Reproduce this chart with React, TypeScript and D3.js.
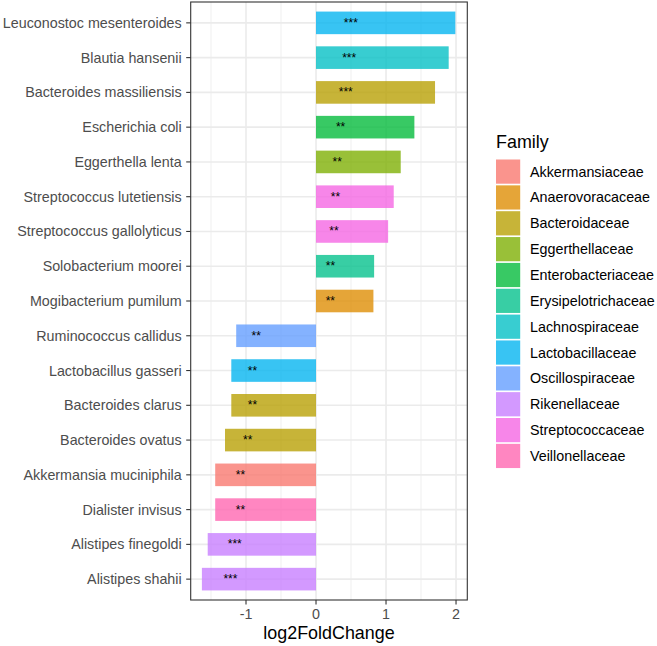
import React from 'react';
import * as d3 from 'd3';

const species = [
  'Leuconostoc mesenteroides',
  'Blautia hansenii',
  'Bacteroides massiliensis',
  'Escherichia coli',
  'Eggerthella lenta',
  'Streptococcus lutetiensis',
  'Streptococcus gallolyticus',
  'Solobacterium moorei',
  'Mogibacterium pumilum',
  'Ruminococcus callidus',
  'Lactobacillus gasseri',
  'Bacteroides clarus',
  'Bacteroides ovatus',
  'Akkermansia muciniphila',
  'Dialister invisus',
  'Alistipes finegoldi',
  'Alistipes shahii',
];

const log2FC = [1.99, 1.895, 1.7, 1.405, 1.21, 1.11, 1.03, 0.83, 0.82, -1.14, -1.21, -1.21, -1.3, -1.44, -1.44, -1.547, -1.63];

const speciesFamily = [
  'Lactobacillaceae',
  'Lachnospiraceae',
  'Bacteroidaceae',
  'Enterobacteriaceae',
  'Eggerthellaceae',
  'Streptococcaceae',
  'Streptococcaceae',
  'Erysipelotrichaceae',
  'Anaerovoracaceae',
  'Oscillospiraceae',
  'Lactobacillaceae',
  'Bacteroidaceae',
  'Bacteroidaceae',
  'Akkermansiaceae',
  'Veillonellaceae',
  'Rikenellaceae',
  'Rikenellaceae',
];

const signif = ['***', '***', '***', '**', '**', '**', '**', '**', '**', '**', '**', '**', '**', '**', '**', '***', '***'];

const families = [
  'Akkermansiaceae',
  'Anaerovoracaceae',
  'Bacteroidaceae',
  'Eggerthellaceae',
  'Enterobacteriaceae',
  'Erysipelotrichaceae',
  'Lachnospiraceae',
  'Lactobacillaceae',
  'Oscillospiraceae',
  'Rikenellaceae',
  'Streptococcaceae',
  'Veillonellaceae',
];

const palette = ['#F8766D', '#DE8C00', '#B79F00', '#7CAE00', '#00BA38', '#00C08B', '#00BFC4', '#00B4F0', '#619CFF', '#C77CFF', '#F564E3', '#FF64B0'];

const xTicks = [-1, 0, 1, 2];
const xMinorTicks = [-1.5, -0.5, 0.5, 1.5];

const FONT = '"Liberation Sans", Arial, Helvetica, sans-serif';

export default function App() {
  const W = 657;
  const H = 646;
  const left = 190.7;
  const right = 467.3;
  const top = 2;
  const bottom = 600;

  const x = d3.scaleLinear().domain([-1.79, 2.161]).range([left, right]);
  const y = d3.scaleBand<string>().domain(species).range([top, bottom]).paddingInner(0).paddingOuter(0.1);
  const color = d3.scaleOrdinal<string, string>().domain(families).range(palette);
  const step = y.step();
  const barH = step * 0.65;

  const legendX = 496;
  const legendKeyTop = 159.5;
  const legendPitch = 25.85;
  const keySize = 24.2;

  return (
    <svg width={W} height={H} style={{ position: 'absolute', left: 0, top: 0, display: 'block', background: '#fff' }} fontFamily={FONT}>
      <rect x={0} y={0} width={W} height={H} fill="#fff" />
      {/* panel background */}
      <rect x={left} y={top} width={right - left} height={bottom - top} fill="#fff" />
      {/* minor grid */}
      {xMinorTicks.map((t) => (
        <line key={'mn' + t} x1={x(t)} x2={x(t)} y1={top} y2={bottom} stroke="#EBEBEB" strokeWidth={0.8} />
      ))}
      {/* major grid */}
      {xTicks.map((t) => (
        <line key={'mj' + t} x1={x(t)} x2={x(t)} y1={top} y2={bottom} stroke="#EBEBEB" strokeWidth={1.6} />
      ))}
      {species.map((s) => (
        <line key={'hg' + s} x1={left} x2={right} y1={y(s)! + step / 2} y2={y(s)! + step / 2} stroke="#EBEBEB" strokeWidth={1.6} />
      ))}
      {/* bars */}
      {species.map((s, i) => {
        const v = log2FC[i];
        const x0 = x(Math.min(0, v));
        const x1 = x(Math.max(0, v));
        return (
          <rect
            key={'b' + s}
            x={x0}
            y={y(s)! + (step - barH) / 2}
            width={x1 - x0}
            height={barH}
            fill={color(speciesFamily[i])}
            fillOpacity={0.78}
          />
        );
      })}
      {/* significance labels */}
      {species.map((s, i) => {
        const v = log2FC[i];
        const pos = v > 0 ? v * 0.25 : v * 0.75;
        return (
          <text
            key={'t' + s}
            x={x(pos)}
            y={y(s)! + step / 2}
            textAnchor="middle"
            dominantBaseline="central"
            fontSize={12}
            fill="#000"
          >
            {signif[i]}
          </text>
        );
      })}
      {/* panel border */}
      <rect x={left} y={top} width={right - left} height={bottom - top} fill="none" stroke="#333333" strokeWidth={1.1} />
      {/* y axis ticks & labels */}
      {species.map((s) => (
        <g key={'ya' + s}>
          <line x1={left - 4.5} x2={left} y1={y(s)! + step / 2} y2={y(s)! + step / 2} stroke="#333333" strokeWidth={1.1} />
          <text x={left - 9} y={y(s)! + step / 2} textAnchor="end" dominantBaseline="central" fontSize={14.3} fill="#4D4D4D">
            {s}
          </text>
        </g>
      ))}
      {/* x axis ticks & labels */}
      {xTicks.map((t) => (
        <g key={'xa' + t}>
          <line x1={x(t)} x2={x(t)} y1={bottom} y2={bottom + 4.5} stroke="#333333" strokeWidth={1.1} />
          <text x={x(t)} y={619} textAnchor="middle" fontSize={14.3} fill="#4D4D4D">
            {t < 0 ? '-' + Math.abs(t) : String(t)}
          </text>
        </g>
      ))}
      <text x={(left + right) / 2} y={639} textAnchor="middle" fontSize={17.9} fill="#000">
        log2FoldChange
      </text>
      {/* legend */}
      <text x={legendX} y={148} fontSize={17.9} fill="#000">
        Family
      </text>
      {families.map((f, i) => (
        <g key={'lg' + f}>
          <rect
            x={legendX}
            y={legendKeyTop + i * legendPitch}
            width={keySize}
            height={keySize}
            fill={color(f)}
            fillOpacity={0.78}
          />
          <text
            x={530}
            y={legendKeyTop + i * legendPitch + keySize / 2}
            dominantBaseline="central"
            fontSize={14.3}
            fill="#000"
          >
            {f}
          </text>
        </g>
      ))}
    </svg>
  );
}
